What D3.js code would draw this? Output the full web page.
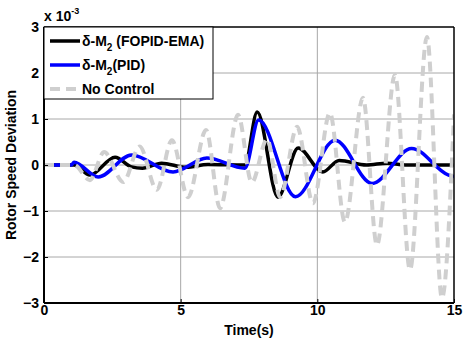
<!DOCTYPE html>
<html>
<head>
<meta charset="utf-8">
<script src="https://cdn.jsdelivr.net/npm/d3@7"></script>
<style>
  body { margin: 0; background: #fff; }
  text { font-family: "Liberation Sans", Arial, sans-serif; font-weight: bold; }
</style>
</head>
<body>
<svg id="chart" width="465" height="339"></svg>
<script>
// data (time in s, deviation in 1e-3)
const fopidT = [0, 1.1, 1.68, 2.6, 3.2, 3.6, 4.3, 5.2, 6.0, 7.35, 7.8, 8.56, 9.3, 10.2, 10.8, 11.8, 12.55, 13.2, 15];
const fopidV = [0, 0, -0.22, 0.17, -0.04, -0.07, 0.04, -0.05, 0.01, 0, 1.15, -0.7, 0.37, -0.15, 0.1, 0, 0.04, 0, 0];

const pidT = [0, 1.0, 1.1, 1.98, 3.2, 4.72, 5.96, 7.35, 7.85, 9.2, 10.65, 12.0, 13.45, 14.8, 15];
const pidV = [0, 0, 0.06, -0.26, 0.22, -0.15, 0.15, -0.07, 0.98, -0.69, 0.54, -0.4, 0.36, -0.22, -0.25];

const noCtrlT = [0, 1.1, 1.68, 2.2, 2.9, 3.5, 4.13, 4.68, 5.27, 5.93, 6.44, 7.1, 7.6, 8.16, 8.64, 9.26, 9.84, 10.46, 11.01, 11.67, 12.18, 12.84, 13.39, 14.01, 14.56, 15];
const noCtrlV = [0, 0, -0.33, 0.28, -0.37, 0.4, -0.54, 0.54, -0.7, 0.76, -0.94, 1.09, -0.38, 0.56, -0.7, 0.83, -0.83, 1.13, -1.24, 1.46, -1.74, 1.96, -2.28, 2.78, -2.89, 1.1];

const xTicks = [0, 5, 10, 15];
const yTicks = [-3, -2, -1, 0, 1, 2, 3];

const legendNames = [["\u03B4-M", "2", " (FOPID-EMA)"], ["\u03B4-M", "2", "(PID)"], ["No Control", "", ""]];

const svg = d3.select("#chart"),
    margin = {top: 27, right: 11, bottom: 36, left: 44},
    width = 465 - margin.left - margin.right,
    height = 339 - margin.top - margin.bottom,
    g = svg.append("g").attr("transform", "translate(" + margin.left + "," + margin.top + ")");

const x = d3.scaleLinear().domain([0, 15]).range([0, width]);
const y = d3.scaleLinear().domain([-3, 3]).range([height, 0]);

// grid
g.append("g").selectAll("line").data(xTicks.slice(1, -1)).enter().append("line")
    .attr("x1", d => x(d)).attr("x2", d => x(d)).attr("y1", 0).attr("y2", height)
    .attr("stroke", "#a8a8a8").attr("stroke-width", 1);
g.append("g").selectAll("line").data(yTicks.slice(1, -1)).enter().append("line")
    .attr("y1", d => y(d)).attr("y2", d => y(d)).attr("x1", 0).attr("x2", width)
    .attr("stroke", "#a8a8a8").attr("stroke-width", 1);

// series (drawing order: black, blue, then dashed grey on top)
const fopid = {t: fopidT, v: fopidV, color: "#000000", dash: null, w: 3.5};
const pid = {t: pidT, v: pidV, color: "#0000ff", dash: null, w: 3.5};
const noCtrl = {t: noCtrlT, v: noCtrlV, color: "#cfcfcf", dash: "10,6", w: 4};
const series = [fopid, pid, noCtrl];
const line = d3.line().x(d => x(d[0])).y(d => y(d[1])).curve(d3.curveMonotoneX);

svg.append("defs").append("clipPath").attr("id", "clip")
    .append("rect").attr("x", 0).attr("y", 0).attr("width", width).attr("height", height);

series.forEach(function(s) {
  g.append("path")
      .datum(s.t.map((t, i) => [t, s.v[i]]))
      .attr("d", line)
      .attr("fill", "none")
      .attr("stroke", s.color)
      .attr("stroke-width", s.w)
      .attr("stroke-dasharray", s.dash)
      .attr("stroke-linejoin", "round")
      .attr("clip-path", "url(#clip)");
});

// axes
const xAxis = d3.axisBottom(x).tickValues(xTicks).tickSize(-4).tickPadding(2).tickFormat(d3.format("d"));
const yAxis = d3.axisLeft(y).tickValues(yTicks).tickSize(-4).tickPadding(5).tickFormat(d3.format("d"));

const xa = g.append("g").attr("transform", "translate(0," + height + ")").call(xAxis);
const ya = g.append("g").call(yAxis);
[xa, ya].forEach(function(a) {
  a.select(".domain").remove();
  a.selectAll("text").attr("font-size", "14px").attr("fill", "#000");
  a.selectAll("line").attr("stroke", "#000");
});

// box
g.append("line").attr("x1", 0).attr("x2", width).attr("y1", 0).attr("y2", 0).attr("stroke", "#000").attr("stroke-width", 1.5);
g.append("line").attr("x1", width).attr("x2", width).attr("y1", 0).attr("y2", height).attr("stroke", "#000").attr("stroke-width", 1.5);
g.append("line").attr("x1", 0).attr("x2", width).attr("y1", height).attr("y2", height).attr("stroke", "#000").attr("stroke-width", 2);
g.append("line").attr("x1", 0).attr("x2", 0).attr("y1", 0).attr("y2", height).attr("stroke", "#000").attr("stroke-width", 2);

// exponent label
const ex = svg.append("text").attr("x", 44).attr("y", 21).attr("font-size", "14px");
ex.append("tspan").text("x 10");
ex.append("tspan").attr("dy", -7).attr("font-size", "9px").text("-3");

// axis labels
svg.append("text").attr("x", margin.left + width / 2).attr("y", 335)
    .attr("text-anchor", "middle").attr("font-size", "14px").text("Time(s)");
svg.append("text").attr("transform", "translate(16," + (margin.top + height / 2) + ") rotate(-90)")
    .attr("text-anchor", "middle").attr("font-size", "14px").text("Rotor Speed Deviation");

// legend
const leg = g.append("g");
leg.append("rect").attr("x", 0).attr("y", 0).attr("width", 169).attr("height", 72)
    .attr("fill", "#fff").attr("stroke", "#000").attr("stroke-width", 1);
legendNames.forEach(function(name, i) {
  const s = series[i];
  const yy = 14 + i * 24;
  leg.append("line").attr("x1", 6).attr("x2", 36).attr("y1", yy).attr("y2", yy)
      .attr("stroke", s.color).attr("stroke-width", s.w).attr("stroke-dasharray", s.dash);
  const t = leg.append("text").attr("x", 38).attr("y", yy + 5).attr("font-size", "14px");
  t.append("tspan").text(name[0]);
  if (name[1]) {
    t.append("tspan").attr("dy", 5).attr("font-size", "10px").text(name[1]);
    t.append("tspan").attr("dy", -5).text(name[2]);
  }
});
</script>
</body>
</html>
